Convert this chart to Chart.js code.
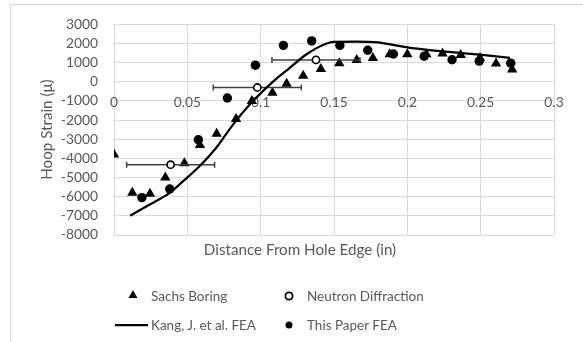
<!DOCTYPE html>
<html>
<head>
<meta charset="utf-8">
<script src="https://cdn.jsdelivr.net/npm/chart.js@4.4.1/dist/chart.umd.min.js"></script>
<style>
    html, body { margin: 0; padding: 0; background: #fff; overflow: hidden; }
    body { width: 583px; height: 342px; position: relative; font-family: Lato, 'Open Sans', sans-serif; }
    .frame { position: absolute; left: 10px; top: 4px; width: 620px; height: 380px; border: 1px solid #d9d9d9; box-sizing: border-box; }
    #chart { position: absolute; left: 0; top: 0; }
    .legend-item { position: absolute; height: 20px; display: flex; align-items: center; font-size: 13.5px; color: #595959; white-space: nowrap; }
    .legend-item svg { flex: none; }
</style>
</head>
<body>
<div class="frame"></div>
<canvas id="chart" width="583" height="342"></canvas>
<div id="legend"></div>
<script>
// Sachs Boring (triangles)
const sachsX = [0, 0.0125, 0.0245, 0.035, 0.048, 0.0586, 0.07, 0.0832, 0.094, 0.108, 0.1177, 0.129,
    0.141, 0.1536, 0.1655, 0.1765, 0.188, 0.2, 0.213, 0.224, 0.2364, 0.2495, 0.2605, 0.2715];
const sachsY = [-3800, -5800, -5850, -5000, -4250, -3300, -2720, -1950, -1000, -580, -100, 310,
    660, 970, 1130, 1240, 1440, 1440, 1440, 1480, 1390, 1240, 950, 640];
// Neutron Diffraction (open circles, horizontal error bars)
const neutronX = [0.0386, 0.0977, 0.1377];
const neutronY = [-4330, -300, 1140];
const neutronErr = [0.03, 0.03, 0.03];
// Kang, J. et al. FEA (line)
const kangX = [0.011, 0.025, 0.038, 0.047, 0.059, 0.07, 0.081, 0.093, 0.109, 0.12, 0.131, 0.141,
    0.15, 0.165, 0.18, 0.192, 0.205, 0.228, 0.251, 0.27];
const kangY = [-6990, -6380, -5800, -5200, -4360, -3420, -2250, -1150, 50, 740, 1420, 1870,
    2080, 2100, 2060, 1900, 1740, 1560, 1400, 1250];
// This Paper FEA (filled circles)
const paperX = [0.019, 0.038, 0.0575, 0.0773, 0.0964, 0.1155, 0.1348, 0.154, 0.173, 0.1905,
    0.2115, 0.2305, 0.249, 0.2705];
const paperY = [-6050, -5600, -3030, -850, 865, 1900, 2130, 1900, 1645, 1450, 1330, 1150, 1080, 970];

const xMin = 0, xMax = 0.3, xStep = 0.05;
const yMin = -8000, yMax = 3000, yStep = 1000;

const pts = (xs, ys) => xs.map((x, i) => ({ x, y: ys[i] }));
const gray = '#595959';
const gridColor = '#d9d9d9';
const tickFont = { family: 'Lato', size: 13.8 };
const titleFont = { family: 'Lato', size: 15.2 };

const errorBars = neutronX.map((x, i) => ({
    type: 'line',
    label: 'err' + i,
    data: [{ x: x - neutronErr[i], y: neutronY[i] }, { x: x + neutronErr[i], y: neutronY[i] }],
    showLine: true,
    borderColor: '#404040',
    borderWidth: 1.5,
    pointStyle: 'line',
    rotation: 90,
    pointRadius: 3,
    pointBorderColor: '#404040',
    pointBorderWidth: 1.5,
    order: 4
}));

const datasets = [
    {
        label: 'Sachs Boring',
        data: pts(sachsX, sachsY),
        pointStyle: 'triangle',
        pointRadius: 6,
        backgroundColor: '#000',
        borderColor: '#000',
        borderWidth: 0,
        order: 5
    },
    ...errorBars,
    {
        label: 'Neutron Diffraction',
        data: pts(neutronX, neutronY),
        pointStyle: 'circle',
        pointRadius: 3.6,
        backgroundColor: '#fff',
        borderColor: '#000',
        borderWidth: 1.6,
        order: 3
    },
    {
        type: 'line',
        label: 'Kang, J. et al. FEA',
        data: pts(kangX, kangY),
        showLine: true,
        borderColor: '#000',
        borderWidth: 2.25,
        pointRadius: 0,
        cubicInterpolationMode: 'monotone',
        fill: false,
        order: 2
    },
    {
        label: 'This Paper FEA',
        data: pts(paperX, paperY),
        pointStyle: 'circle',
        pointRadius: 4.7,
        backgroundColor: '#000',
        borderColor: '#000',
        borderWidth: 0,
        order: 1
    }
];

// the horizontal axis title is centred on the whole chart frame, not on the plot
const centerAxisTitle = {
    id: 'centerAxisTitle',
    afterLayout(chart) {
        const s = chart.scales.x2;
        s.left = 10;
        s.right = 590;
    }
};

new Chart(document.getElementById('chart'), {
    type: 'scatter',
    data: { datasets },
    plugins: [centerAxisTitle],
    options: {
        responsive: false,
        animation: false,
        events: [],
        layout: { padding: { left: 0, top: 23, right: 29, bottom: 77 } },
        plugins: { legend: { display: false }, tooltip: { enabled: false } },
        scales: {
            x: {
                type: 'linear',
                position: { y: 0 },
                min: xMin, max: xMax,
                ticks: { stepSize: xStep, autoSkip: false, color: gray, font: tickFont, padding: 13, callback: v => String(+v.toFixed(2)) },
                grid: { color: gridColor, lineWidth: 1, drawTicks: false },
                border: { display: false }
            },
            x2: {
                type: 'linear',
                position: 'bottom',
                min: xMin, max: xMax,
                ticks: { display: false },
                grid: { display: false },
                border: { display: false },
                title: { display: true, text: 'Distance From Hole Edge (in)', color: gray, font: titleFont, padding: { top: 0, bottom: 6 } },
                afterFit: s => { s.height = 30; }
            },
            y: {
                type: 'linear',
                position: 'left',
                min: yMin, max: yMax,
                ticks: { stepSize: yStep, autoSkip: false, color: gray, font: tickFont, padding: 16, callback: v => String(v) },
                grid: { color: gridColor, lineWidth: 1, drawTicks: false },
                border: { display: false },
                title: { display: true, text: 'Hoop Strain (μ)', color: gray, font: titleFont, padding: { top: 38, bottom: 0 } },
                afterFit: s => { s.width = 114; }
            }
        }
    }
});

// legend laid out in two columns like the original
const legendItems = [
    { text: 'Sachs Boring', left: 115, top: 286, marker: '<polygon points="18,4 22.5,12 13.5,12" fill="#000"/>' },
    { text: 'Neutron Diffraction', left: 271, top: 286, marker: '<circle cx="18" cy="10" r="3.6" fill="#fff" stroke="#000" stroke-width="1.8"/>' },
    { text: 'Kang, J. et al. FEA', left: 115, top: 315, marker: '<line x1="0" y1="10" x2="33" y2="10" stroke="#000" stroke-width="2.25"/>' },
    { text: 'This Paper FEA', left: 271, top: 315, marker: '<circle cx="18" cy="10" r="3.5" fill="#000"/>' }
];
document.getElementById('legend').innerHTML = legendItems.map(it =>
    `<div class="legend-item" style="left:${it.left}px;top:${it.top}px"><svg width="36" height="20">${it.marker}</svg><span>${it.text}</span></div>`
).join('');
</script>
</body>
</html>
